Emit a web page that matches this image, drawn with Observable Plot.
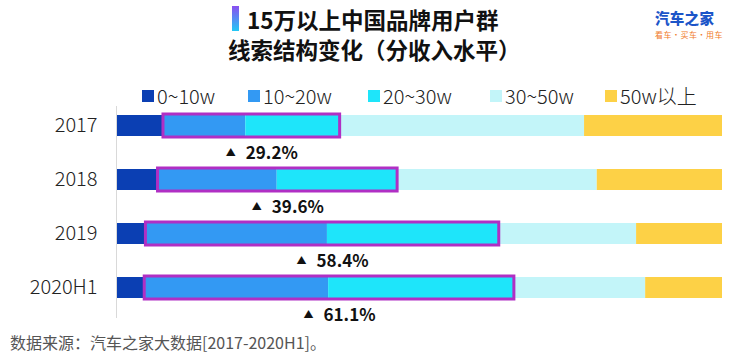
<!DOCTYPE html>
<html>
<head>
<meta charset="utf-8">
<script src="https://cdn.jsdelivr.net/npm/d3@7"></script>
<script src="https://cdn.jsdelivr.net/npm/@observablehq/plot@0.6"></script>
<style>
  html, body { margin: 0; padding: 0; background: #fff; }
  body { width: 744px; height: 355px; position: relative; overflow: hidden;
         font-family: "Noto Sans CJK SC", "Noto Sans", sans-serif; color: #222; }
  .abs { position: absolute; white-space: nowrap; }
  #t1 { left: 247px; top: 6px; font-size: 22.5px; font-weight: bold; line-height: 26px; color: #111; }
  #tbar { left: 232px; top: 6px; width: 7px; height: 25px; background: linear-gradient(#8a4ff0, #22c8f5); }
  #t2 { left: 228px; top: 36px; font-size: 22.5px; font-weight: bold; line-height: 26px; color: #111; }
  #logo1 { left: 655px; top: 10px; font-size: 14.5px; font-weight: 900; color: #1c55c8; line-height: 16px; letter-spacing: 0.3px; }
  #logo2 { left: 655px; top: 30px; font-size: 8px; color: #f07a2a; line-height: 9px; letter-spacing: 0.5px; }
  .item { position: absolute; top: 84px; display: flex; align-items: center; font-size: 20px; font-weight: 300; line-height: 24px; z-index: 2; }
  .sw { width: 12px; height: 12px; margin-right: 3px; }
  #chart { position: absolute; left: 0; top: 95px; z-index: 1; }
  #foot { left: 10px; top: 333px; font-size: 16px; color: #555; line-height: 18px; }
</style>
</head>
<body>
<div id="tbar" class="abs"></div>
<div id="t1" class="abs">15万以上中国品牌用户群</div>
<div id="t2" class="abs">线索结构变化（分收入水平）</div>
<div id="logo1" class="abs">汽车之家</div>
<div id="logo2" class="abs">看车·买车·用车</div>
<div id="legend"></div>
<div id="chart"></div>
<div id="foot" class="abs">数据来源：汽车之家大数据[2017-2020H1]。</div>
<script>
// ---- data ----
const years = ["2017", "2018", "2019", "2020H1"];
const segments = ["0~10w", "10~20w", "20~30w", "30~50w", "50w以上"];
const share0to10 = [7.6, 6.7, 4.7, 4.5];
const share10to20 = [13.6, 19.7, 30.0, 30.4];
const share20to30 = [15.6, 19.9, 28.4, 30.7];
const share30to50 = [40.4, 33.0, 22.7, 21.7];
const share50plus = [22.8, 20.7, 14.2, 12.7];
const growthLabels = ["29.2%", "39.6%", "58.4%", "61.1%"];
const segColors = ["#0b3fb3", "#3399f3", "#1ee5fa", "#c3f5f9", "#fdd146"];
const legendLeft = [142, 248, 368, 490, 605];

// ---- tables ----
const seriesBySeg = [share0to10, share10to20, share20to30, share30to50, share50plus];
const rows = [];
years.forEach((y, i) => segments.forEach((s, j) => rows.push({year: y, seg: s, value: seriesBySeg[j][i]})));
const boxes = years.map((y, i) => ({
  year: y,
  x1: share0to10[i],
  x2: share0to10[i] + share10to20[i] + share20to30[i],
  label: growthLabels[i]
}));

// ---- legend ----
const leg = document.getElementById("legend");
segments.forEach((s, j) => {
  const it = document.createElement("div");
  it.className = "item";
  it.style.left = legendLeft[j] + "px";
  it.innerHTML = `<div class="sw" style="background:${segColors[j]}"></div><span>${s}</span>`;
  leg.appendChild(it);
});

// ---- chart ----
const chart = Plot.plot({
  width: 744,
  height: 235,
  marginLeft: 117,
  marginRight: 22,
  marginTop: 9,
  marginBottom: 20,
  style: {background: "transparent", color: "#222", fontFamily: "'Noto Sans CJK SC', 'Noto Sans', sans-serif", overflow: "visible"},
  x: {domain: [0, 100], axis: null},
  y: {domain: years, paddingInner: 0.604, paddingOuter: 0.2, axis: null},
  color: {domain: segments, range: segColors},
  marks: [
    Plot.ruleX([0], {stroke: "#d9d9d9", strokeWidth: 1, dx: -1, insetTop: 2, insetBottom: -8}),
    Plot.axisY({tickSize: 0, tickPadding: 20, fontSize: 20, fontWeight: 300, label: null}),
    Plot.barX(rows, {x: "value", y: "year", fill: "seg", order: segments}),
    Plot.barX(boxes, {x1: "x1", x2: "x2", y: "year", fill: "none", stroke: "#b02fc4", strokeWidth: 3, insetTop: -1, insetBottom: -1}),
    Plot.text(boxes, {x: d => (d.x1 + d.x2) / 2, y: "year", text: () => "▲", dx: -21, dy: 27, fontSize: 10, fill: "#111"}),
    Plot.text(boxes, {x: d => (d.x1 + d.x2) / 2, y: "year", text: "label", textAnchor: "start", dx: -6, dy: 28, fontSize: 17, fontWeight: "bold", fill: "#111"})
  ]
});
document.getElementById("chart").appendChild(chart);
</script>
</body>
</html>
